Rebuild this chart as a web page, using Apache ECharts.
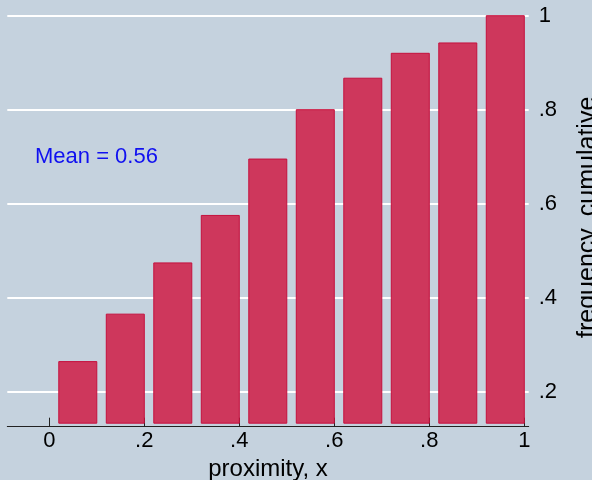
<!DOCTYPE html>
<html><head><meta charset="utf-8">
<script src="https://cdn.jsdelivr.net/npm/echarts@6/dist/echarts.min.js"></script>
<style>html,body{margin:0;padding:0;background:#c5d2de}#c{width:592px;height:480px}</style>
</head><body><div id="c"></div>
<script>
// ---- data ----
const binCenters = [0.06, 0.16, 0.26, 0.36, 0.46, 0.56, 0.66, 0.76, 0.86, 0.96];
const cumFreq    = [0.264, 0.365, 0.474, 0.575, 0.695, 0.800, 0.867, 0.920, 0.942, 1.000];
const barBase = 0.133;
const xTicks = [0, 0.2, 0.4, 0.6, 0.8, 1];
const yTicks = [0.2, 0.4, 0.6, 0.8, 1];
const xTitle = 'proximity, x';
const yTitle = 'frequency, cumulative';
const meanText = 'Mean = 0.56';

// ---- chart ----
const FONT = "'Liberation Sans', Arial, sans-serif";
const halfW = 0.04;
const fmt = v => { const s = String(+v.toFixed(2)); return s.replace(/^0\./, '.'); };
const chart = echarts.init(document.getElementById('c'), null, {renderer: 'canvas'});
chart.setOption({
  backgroundColor: '#c5d2de',
  animation: false,
  grid: {left: 7.3, right: 63.3, top: 8, bottom: 53.3, containLabel: false, outerBoundsMode: 'none'},
  xAxis: {
    type: 'value', min: -0.0884, max: 1.0093,
    name: xTitle, nameLocation: 'middle', nameGap: 31,
    nameTextStyle: {fontFamily: FONT, fontSize: 24, color: '#000'},
    axisLine: {show: true, onZero: false, lineStyle: {color: '#222', width: 1}},
    axisTick: {show: true, inside: true, length: 9, customValues: xTicks, lineStyle: {color: '#222', width: 1}},
    axisLabel: {show: true, customValues: xTicks, margin: 3, fontFamily: FONT, fontSize: 22, color: '#000', formatter: fmt},
    splitLine: {show: false}
  },
  yAxis: {
    type: 'value', position: 'right', min: 0.1255, max: 1.0164,
    name: yTitle, nameLocation: 'middle', nameGap: 47, nameRotate: 90,
    nameTextStyle: {fontFamily: FONT, fontSize: 25, color: '#000'},
    axisLine: {show: false},
    axisTick: {show: true, inside: false, length: 4, customValues: yTicks, lineStyle: {color: '#fff', width: 1.5}},
    axisLabel: {show: true, customValues: yTicks, margin: 10, fontFamily: FONT, fontSize: 22, color: '#000', formatter: fmt},
    splitLine: {show: true, lineStyle: {color: '#fff', width: 2}}
  },
  graphic: [{
    type: 'text', left: 35, top: 146,
    style: {text: meanText, fill: '#1010f0', font: "22px 'Liberation Sans', Arial, sans-serif"}
  }],
  series: [{
    type: 'custom',
    data: binCenters.map((x, i) => [x, cumFreq[i]]),
    encode: {x: 0, y: 1},
    renderItem: function (params, api) {
      const x = api.value(0), y = api.value(1);
      const p0 = api.coord([x - halfW, y]);
      const p1 = api.coord([x + halfW, barBase]);
      return {
        type: 'rect',
        shape: {x: p0[0], y: p0[1], width: p1[0] - p0[0], height: p1[1] - p0[1]},
        style: {fill: '#ce375c', stroke: '#c5103d', lineWidth: 1}
      };
    }
  }]
});
</script></body></html>
